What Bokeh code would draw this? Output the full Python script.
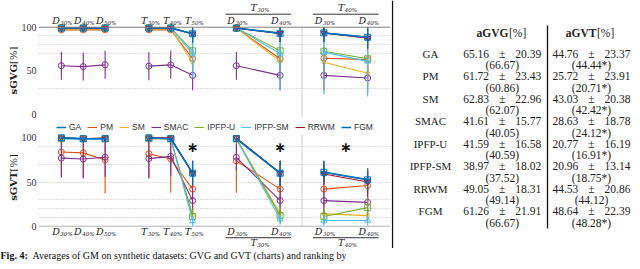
import math
from bokeh.plotting import figure
from bokeh.layouts import column, row
from bokeh.models import Range1d, FixedTicker, Span, Legend, LegendItem
from bokeh.core.properties import value
from bokeh.embed import file_html
from bokeh.resources import INLINE

# ---------------- data ----------------
methods = ["GA", "PM", "SM", "SMAC", "IPFP-U", "IPFP-SM", "RRWM", "FGM"]

panel_letters = [["D", "D", "D"], ["T", "T", "T"], ["D", "D"], ["D", "D"]]
panel_subs = [["30%", "40%", "50%"], ["30%", "40%", "50%"], ["30%", "40%"], ["30%", "40%"]]
group_letter = [None, None, "T", "T"]
group_sub = [None, None, "30%", "40%"]

# sGVG [%] (top charts): D30 D40 D50 | T30 T40 T50 | T30:D30 D40 | T40:D30 D40
sgvg_mean = {
    "GA":      [99, 99, 99, 99, 99, 92.5, 99, 93, 93.5, 88.5],
    "PM":      [97, 97, 97, 97, 97, 64, 99, 64, 64.5, 63],
    "SM":      [98, 98, 98, 98, 98, 60, 99, 61, 60, 47.5],
    "SMAC":    [56, 55, 57, 55.5, 57, 45, 56, 45, 45, 42],
    "IPFP-U":  [99, 99, 99, 99, 99, 73, 99, 73, 72.5, 64],
    "IPFP-SM": [99, 99, 99, 99, 99, 70, 99, 70, 71.5, 61],
    "RRWM":    [99, 99, 99, 99, 99, 92.5, 99, 93, 93.5, 87.5],
    "FGM":     [99, 99, 99, 99, 99, 92.5, 99, 93, 93.5, 88.5],
}
sgvg_std = {
    "GA":      [1.5, 1.5, 1.5, 1.5, 1.5, 10, 1.5, 10, 10, 12],
    "PM":      [2, 2, 2, 2, 2, 14, 1.5, 14, 14, 15],
    "SM":      [2, 2, 2, 2, 2, 14, 1.5, 14, 15, 16],
    "SMAC":    [16, 16, 16, 16, 16, 17, 16, 17, 17, 17],
    "IPFP-U":  [1.5, 1.5, 1.5, 1.5, 1.5, 20, 1.5, 20, 22, 24],
    "IPFP-SM": [1.5, 1.5, 1.5, 1.5, 1.5, 28, 1.5, 42, 48, 40],
    "RRWM":    [1.5, 1.5, 1.5, 1.5, 1.5, 10, 1.5, 10, 10, 12],
    "FGM":     [1.5, 1.5, 1.5, 1.5, 1.5, 10, 1.5, 10, 10, 12],
}
# sGVT [%] (bottom charts)
sgvt_mean = {
    "GA":      [100, 99, 99, 100, 99, 60, 99, 60, 61, 52.5],
    "PM":      [84, 83, 75, 82, 76, 42, 74, 42, 42, 46],
    "SM":      [99, 99, 99, 99, 99, 12, 99, 14, 14, 12],
    "SMAC":    [77, 76, 78, 76.5, 79, 29, 78, 29, 29, 27],
    "IPFP-U":  [99, 99, 99, 99, 99, 11, 99, 12, 11, 21],
    "IPFP-SM": [99, 98, 99, 99, 99, 6, 99, 8, 6.5, 6.5],
    "RRWM":    [100, 99, 100, 100, 100, 60, 100, 60, 59, 50],
    "FGM":     [100, 99, 99, 100, 99, 60, 99, 60, 61, 52.5],
}
sgvt_std = {
    "GA":      [1, 2, 2, 1, 2, 14, 2, 14, 13, 12],
    "PM":      [27, 28, 38, 28, 38, 20, 36, 20, 20, 20],
    "SM":      [2, 2, 2, 2, 2, 10, 2, 10, 10, 9],
    "SMAC":    [22, 22, 22, 22, 22, 15, 15, 15, 15, 14],
    "IPFP-U":  [2, 2, 2, 2, 2, 9, 2, 9, 9, 12],
    "IPFP-SM": [2, 3, 2, 2, 2, 6, 2, 6, 6, 6],
    "RRWM":    [1, 1, 1, 1, 1, 14, 1, 14, 13, 12],
    "FGM":     [1, 2, 2, 1, 2, 14, 2, 14, 13, 12],
}

# table values
agvg_mean = ["65.16", "61.72", "62.83", "41.61", "41.59", "38.97", "49.05", "61.26"]
agvg_std = ["20.39", "23.43", "22.96", "15.77", "16.58", "18.02", "18.31", "21.91"]
agvg_med = ["(66.67)", "(60.86)", "(62.07)", "(40.05)", "(40.59)", "(37.52)", "(49.14)", "(66.67)"]
agvt_mean = ["44.76", "25.72", "43.03", "28.63", "20.77", "20.96", "44.53", "48.64"]
agvt_std = ["23.37", "23.91", "20.38", "18.78", "16.19", "13.14", "20.86", "22.39"]
agvt_med = ["(44.44*)", "(20.71*)", "(42.42*)", "(24.12*)", "(16.91*)", "(18.75*)", "(44.12)", "(48.28*)"]

caption_bold = "Fig. 4:"
caption_text = "Averages of GM on synthetic datasets: GVG and GVT (charts) and ranking by"

# ---------------- styles ----------------
colors = ["#0072BD", "#D95319", "#EDB120", "#7E2F8E", "#77AC30", "#4DBEEE", "#A2142F", "#0072BD"]
markers = ["star", "circle", "diamond", "circle", "square", "triangle", "inverted_triangle", "square"]
widths = [1.5, 1.1, 1.1, 1.1, 1.1, 1.1, 1.1, 1.5]

SERIF = "Liberation Serif"
MATHF = "DejaVu Serif"
SANS = "Liberation Sans"

W_STRIP, W_CHART, W_TABLE = 18, 373, 241
H_TOP, H_BOT, H_CAP = 133, 115, 13

# x layout of the panels
steps = [1, 1, 2, 2]
xpos = []
start = 0
for letters, st in zip(panel_letters, steps):
    xs = [start + st * k for k in range(len(letters))]
    xpos.append(xs)
    start = xs[-1] + 2
all_x = [x for xs in xpos for x in xs]
X_RANGE = Range1d(-1.045, 15.045)


def split_panels(vals):
    out, k = [], 0
    for xs in xpos:
        out.append(list(vals[k:k + len(xs)]))
        k += len(xs)
    return out


def math_labels(p, xs, ys, letters, subs, yoff):
    p.text(x=xs, y=ys, text=letters, text_font=value(MATHF), text_font_style="italic",
           text_font_size="9.5px", text_align="right", text_baseline="middle",
           x_offset=-1.5, y_offset=yoff, text_color="#222222")
    p.text(x=xs, y=ys, text=subs, text_font=value(MATHF), text_font_style="italic",
           text_font_size="5.5px", text_align="left", text_baseline="middle",
           x_offset=-1.0, y_offset=yoff + 2.5, text_color="#222222")


def make_chart(mean, std, y0, y1, height, grid_vals, top):
    p = figure(width=W_CHART, height=height, x_range=X_RANGE, y_range=Range1d(y0, y1),
               toolbar_location=None, output_backend="svg", x_axis_location=None,
               min_border_left=18, min_border_right=1, min_border_top=0, min_border_bottom=0)
    p.outline_line_color = None
    p.xgrid.visible = False
    p.ygrid.ticker = FixedTicker(ticks=grid_vals)
    p.ygrid.grid_line_dash = "1 2"
    p.ygrid.grid_line_color = "#bdbdbd"
    ax = p.yaxis[0]
    ax.ticker = FixedTicker(ticks=[0, 50, 100])
    ax.axis_line_color = None
    ax.major_tick_line_color = None
    ax.minor_tick_line_color = None
    ax.major_tick_out = 0
    ax.major_tick_in = 0
    ax.minor_tick_out = 0
    ax.major_label_standoff = 2
    ax.major_label_text_font = SERIF
    ax.major_label_text_font_size = "10px"
    ax.major_label_text_color = "#333333"

    px = height / (y1 - y0)

    # axis line (top row: at 100, bottom row: at 0)
    p.add_layout(Span(location=100 if top else 0, dimension="width",
                      line_color="#808080" if top else "#b5b5b5", line_width=1))
    # separator between the two right-hand panels
    sep = (xpos[2][-1] + xpos[3][0]) / 2
    p.segment(x0=[sep], y0=[100 if top else 104], x1=[sep], y1=[-3 if top else 0],
              line_color="#cfcfcf", line_width=1)

    items = []
    for m, c, mk, lw in zip(methods, colors, markers, widths):
        mv, sv = mean[m], std[m]
        lo = [max(a - b, 0) for a, b in zip(mv, sv)]
        hi = [min(a + b, 100) for a, b in zip(mv, sv)]
        p.segment(x0=all_x, y0=lo, x1=all_x, y1=hi, line_color=c, line_width=1.1)
        lr = p.multi_line(xs=xpos, ys=split_panels(mv), line_color=c, line_width=lw)
        p.scatter(x=all_x, y=mv, marker=mk, size=6, line_color=c, fill_color=None, line_width=1)
        cr = p.scatter(x=[], y=[], marker="cross", size=7, line_color=c, line_width=1.2)
        items.append(LegendItem(label=m, renderers=[lr, cr]))

    # x tick labels & group labels
    base = 100 if top else 0
    for k, xs in enumerate(xpos):
        math_labels(p, xs, [base] * len(xs), panel_letters[k], panel_subs[k], -7 if top else 5)
        if group_letter[k] is not None:
            mid = (xs[0] + xs[-1]) / 2
            uy = base + 13 / px if top else base - 11.5 / px
            math_labels(p, [mid], [base], [group_letter[k]], [group_sub[k]], -20 if top else 16.5)
            p.segment(x0=[xs[0] - 0.5], y0=[uy], x1=[xs[-1] + 0.5], y1=[uy],
                      line_color="#333333", line_width=1)
    return p, items


top, items = make_chart(sgvg_mean, sgvg_std, -21.4, 130.5, H_TOP, [30, 70, 80, 90], True)
legend = Legend(items=items, orientation="horizontal", location=(18, 1), padding=0, margin=0,
                spacing=6, glyph_width=10, glyph_height=10, label_height=10, label_width=0,
                label_standoff=3, label_text_font=SANS, label_text_font_size="8.5px",
                label_text_color="#333333", background_fill_alpha=0, border_line_color=None)
top.add_layout(legend)

bottom, _ = make_chart(sgvt_mean, sgvt_std, -25.2, 104.9, H_BOT, [10, 20, 30, 50, 70, 90], False)
star_x = [xpos[1][-1], xpos[2][-1], (xpos[3][0] + xpos[3][-1]) / 2]
bottom.text(x=star_x, y=[89.5] * 3, text=["∗"] * 3, text_font=value("DejaVu Sans"),
            text_font_style="bold", text_font_size="14px", text_align="center",
            text_baseline="middle", text_color="#111111")

# ---------------- y-axis titles (left strip) ----------------
H_CHARTS = H_TOP + H_BOT
strip = figure(width=W_STRIP, height=H_CHARTS, x_range=Range1d(0, W_STRIP), y_range=Range1d(H_CHARTS, 0),
               toolbar_location=None, output_backend="svg", x_axis_location=None, y_axis_location=None,
               min_border=0)
strip.outline_line_color = None
strip.grid.visible = False
for cy, head in [(70.5, "sGVG"), (178, "sGVT")]:
    strip.text(x=[13], y=[cy - 7], text=[head], angle=math.pi / 2, text_font=value(MATHF),
               text_font_style="bold", text_font_size="10px", text_align="right",
               text_baseline="middle", text_color="#222222")
    strip.text(x=[13], y=[cy - 7], text=["[%]"], angle=math.pi / 2, text_font=value(MATHF),
               text_font_size="10px", text_align="left", text_baseline="middle", text_color="#222222")

# ---------------- table ----------------
X0 = W_STRIP + W_CHART
t = figure(width=W_TABLE, height=H_CHARTS, x_range=Range1d(X0, X0 + W_TABLE), y_range=Range1d(H_CHARTS, 0),
           toolbar_location=None, output_backend="svg", x_axis_location=None, y_axis_location=None,
           min_border=0)
t.outline_line_color = None
t.grid.visible = False
t.add_layout(Span(location=X0 + 1, dimension="height", line_color="#111111", line_width=1.3))
t.segment(x0=[547], y0=[25], x1=[547], y1=[228], line_color="#111111", line_width=1.3)

row_y = [53.3 + 22.5 * i for i in range(len(methods))]
med_y = [y + 11.3 for y in row_y]
fs = "11.5px"
tcol = "#222222"
t.text(x=[430] * 8, y=row_y, text=methods, text_font=value(SERIF), text_font_size="11px",
       text_align="center", text_baseline="middle", text_color=tcol)
for cx, mv, sv, md in [(501.7, agvg_mean, agvg_std, agvg_med), (591.0, agvt_mean, agvt_std, agvt_med)]:
    t.text(x=[cx - 13.2] * 8, y=row_y, text=mv, text_font=value(SERIF), text_font_size=fs,
           text_align="right", text_baseline="middle", text_color=tcol)
    t.text(x=[cx] * 8, y=row_y, text=["±"] * 8, text_font=value(SERIF), text_font_size=fs,
           text_align="center", text_baseline="middle", text_color=tcol)
    t.text(x=[cx + 13.1] * 8, y=row_y, text=sv, text_font=value(SERIF), text_font_size=fs,
           text_align="left", text_baseline="middle", text_color=tcol)
    t.text(x=[cx] * 8, y=med_y, text=md, text_font=value(SERIF), text_font_size=fs,
           text_align="center", text_baseline="middle", text_color=tcol)
for split, head in [(508, "aGVG"), (596, "aGVT")]:
    t.text(x=[split], y=[32], text=[head], text_font=value(SERIF), text_font_style="bold",
           text_font_size=fs, text_align="right", text_baseline="middle", text_color=tcol)
    t.text(x=[split + 0.5], y=[32], text=["[%]"], text_font=value(SERIF),
           text_font_size=fs, text_align="left", text_baseline="middle", text_color=tcol)

# ---------------- caption ----------------
W_ALL = W_STRIP + W_CHART + W_TABLE
cap = figure(width=W_ALL, height=H_CAP, x_range=Range1d(0, W_ALL), y_range=Range1d(H_CAP, 0),
             toolbar_location=None, output_backend="svg", x_axis_location=None, y_axis_location=None,
             min_border=0)
cap.outline_line_color = None
cap.grid.visible = False
cap.text(x=[0], y=[6.5], text=[caption_bold], text_font=value(SERIF), text_font_style="bold",
         text_font_size="10px", text_align="left", text_baseline="middle", text_color="#111111")
cap.text(x=[32], y=[6.5], text=[caption_text], text_font=value(SERIF),
         text_font_size="10px", text_align="left", text_baseline="middle", text_color="#111111")

layout = column(row(strip, column(top, bottom, spacing=0), t, spacing=0), cap, spacing=0)
open("out.html", "w").write(file_html(layout, INLINE))
